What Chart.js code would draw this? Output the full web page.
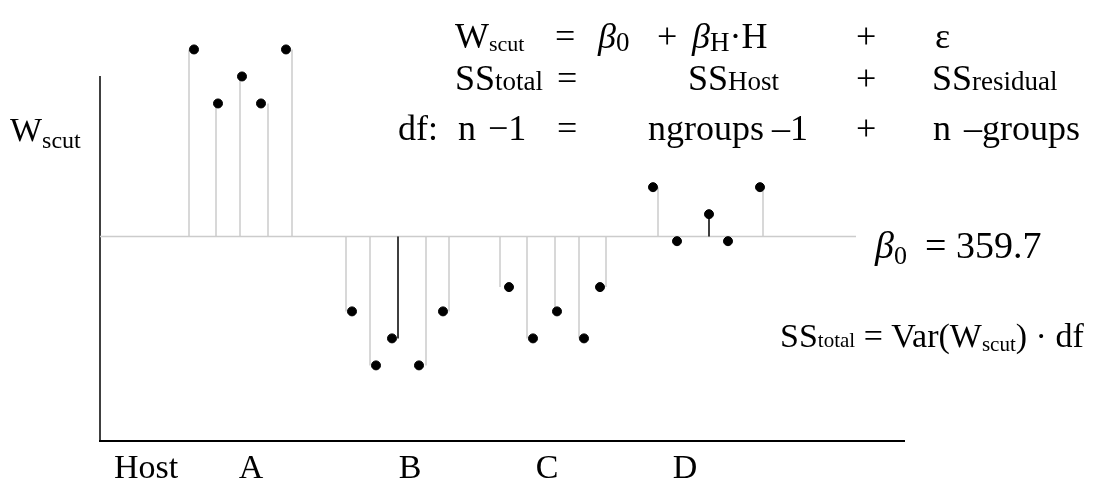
<!DOCTYPE html>
<html>
<head>
<meta charset="utf-8">
<script src="https://cdn.jsdelivr.net/npm/chart.js@4"></script>
<style>
  html, body { margin: 0; padding: 0; background: #fff; }
  #wrap { position: relative; width: 1100px; height: 487px; }
</style>
</head>
<body>
<div id="wrap"><canvas id="chart" width="1100" height="487"></canvas></div>
<script>
// grand mean (beta_0)
const b0 = 359.7;

// W_scut values per host group
const hostA = [429, 409, 419, 409, 429];
const hostB = [332, 312, 322, 312, 332];
const hostC = [341, 322, 332, 322, 341];
const hostD = [378, 358, 368, 358, 378];

// horizontal position of each observation (dot) and its residual stem
const dotPosA = [94, 118, 142, 161, 186];
const dotPosB = [252, 276, 292, 319, 343];
const dotPosC = [409, 433, 457, 484, 500];
const dotPosD = [553, 577, 609, 628, 660];
const stemPosA = [89, 116, 140, 168, 192];
const stemPosB = [246, 270, 298, 326, 349];
const stemPosC = [400, 427, 455, 479, 506];
const stemPosD = [558, 577, 609, 628, 663];

// stems drawn in black: [group index, observation index]
const blackStems = [[1, 2], [3, 2]];

const groupLabels = ['Host', 'A', 'B', 'C', 'D'];
const groupLabelPos = [46, 151, 310, 447, 585];

const xMax = 804;
const baselineEnd = 756;
const yMin = 284.0, yMax = 432.5;
const yAxisTop = 419.2;

const values = [hostA, hostB, hostC, hostD];
const dotPos = [dotPosA, dotPosB, dotPosC, dotPosD];
const stemPos = [stemPosA, stemPosB, stemPosC, stemPosD];

let dots = [], greyStems = [], darkStems = [];
values.forEach((grp, g) => {
    grp.forEach((v, i) => {
        dots.push({x: dotPos[g][i], y: v});
        let dark = blackStems.some(s => s[0] == g && s[1] == i);
        let target = dark ? darkStems : greyStems;
        target.push({x: stemPos[g][i], y: b0});
        target.push({x: stemPos[g][i], y: v});
        target.push({x: stemPos[g][i], y: null});
    });
});

const SERIF = '"Liberation Serif", "Times New Roman", serif';

// draws a run of text pieces: [text, size, baseline shift, italic]
function run(ctx, x, y, parts){
    parts.forEach(p => {
        ctx.font = (p[3] ? 'italic ' : '') + p[1] + 'px ' + SERIF;
        ctx.fillText(p[0], x, y + (p[2] || 0));
        x += ctx.measureText(p[0]).width;
    });
}

// y axis line only spans part of the plot height
const axisPlugin = {
    id: 'shortYAxis',
    beforeDatasetsDraw(chart){
        const ys = chart.scales.y;
        const ctx = chart.ctx;
        ctx.save();
        ctx.strokeStyle = '#000';
        ctx.lineWidth = 1.5;
        ctx.beginPath();
        ctx.moveTo(chart.chartArea.left, ys.getPixelForValue(yAxisTop));
        ctx.lineTo(chart.chartArea.left, ys.getPixelForValue(yMin));
        ctx.stroke();
        ctx.restore();
    }
};

const textPlugin = {
    id: 'formulaText',
    afterDraw(chart){
        const ctx = chart.ctx;
        const xs = chart.scales.x;
        const area = chart.chartArea;
        ctx.save();
        ctx.fillStyle = '#000';
        ctx.textBaseline = 'alphabetic';

        // group labels under the axis
        ctx.textAlign = 'center';
        ctx.font = '34px ' + SERIF;
        groupLabels.forEach((lab, i) => {
            ctx.fillText(lab, xs.getPixelForValue(groupLabelPos[i]), area.bottom + 37);
        });
        ctx.textAlign = 'left';

        // y axis label
        run(ctx, 10, 141, [['W', 34], ['scut', 24, 7]]);

        // equations
        const M = 36, S1 = 22, S2 = 27;
        run(ctx, 455, 48, [['W', M], ['scut', S1, 3]]);
        run(ctx, 555, 48, [['=', M]]);
        run(ctx, 598, 48, [['\u03b2', M, 0, true], ['0', S2, 3]]);
        run(ctx, 657, 48, [['+', M]]);
        run(ctx, 692, 48, [['\u03b2', M, 0, true], ['H', S2, 3], ['\u00b7', M], ['H', M]]);
        run(ctx, 856, 48, [['+', M]]);
        run(ctx, 935, 48, [['\u03b5', M]]);

        run(ctx, 455, 90, [['SS', M], ['total', S2]]);
        run(ctx, 557, 90, [['=', M]]);
        run(ctx, 688, 90, [['SS', M], ['Host', S2]]);
        run(ctx, 856, 90, [['+', M]]);
        run(ctx, 932, 90, [['SS', M], ['residual', S2]]);

        run(ctx, 398, 140, [['df:', M]]);
        run(ctx, 458, 140, [['n', M]]);
        run(ctx, 488, 140, [['\u22121', M]]);
        run(ctx, 557, 140, [['=', M]]);
        run(ctx, 648, 140, [['ngroups', M]]);
        run(ctx, 772, 140, [['\u20131', M]]);
        run(ctx, 856, 140, [['+', M]]);
        run(ctx, 933, 140, [['n', M]]);
        run(ctx, 964, 140, [['\u2013groups', M]]);

        run(ctx, 875, 258, [['\u03b2', 38, 0, true], ['0', 26, 6]]);
        run(ctx, 925, 258, [['= 359.7', 38]]);

        run(ctx, 780, 347, [['SS', 34], ['total', 21], [' = Var(W', 34], ['scut', 21, 4], [') \u00b7 df', 34]]);
        ctx.restore();
    }
};

new Chart(document.getElementById('chart'), {
    type: 'scatter',
    data: {
        datasets: [
            {
                data: dots,
                backgroundColor: '#000000',
                borderColor: '#000000',
                pointRadius: 4.5,
                clip: false
            },
            {
                type: 'line',
                data: darkStems,
                borderColor: '#000000',
                borderWidth: 1.5,
                pointRadius: 0,
                spanGaps: false,
                clip: false
            },
            {
                type: 'line',
                data: greyStems,
                borderColor: '#cccccc',
                borderWidth: 1.5,
                pointRadius: 0,
                spanGaps: false,
                clip: false
            },
            {
                type: 'line',
                data: [{x: 0, y: b0}, {x: baselineEnd, y: b0}],
                borderColor: '#cccccc',
                borderWidth: 1.5,
                pointRadius: 0,
                clip: false
            }
        ]
    },
    options: {
        responsive: false,
        animation: false,
        events: [],
        layout: { padding: { left: 100, right: 196, top: 40, bottom: 46 } },
        plugins: { legend: { display: false }, tooltip: { enabled: false } },
        scales: {
            x: {
                type: 'linear',
                min: 0,
                max: xMax,
                grid: { display: false, drawTicks: false },
                border: { display: true, color: '#000', width: 2 },
                ticks: { display: false },
                afterFit(scale){ scale.height = 0; }
            },
            y: {
                type: 'linear',
                min: yMin,
                max: yMax,
                grid: { display: false, drawTicks: false },
                border: { display: false },
                ticks: { display: false },
                afterFit(scale){ scale.width = 0; }
            }
        }
    },
    plugins: [axisPlugin, textPlugin]
});
</script>
</body>
</html>
